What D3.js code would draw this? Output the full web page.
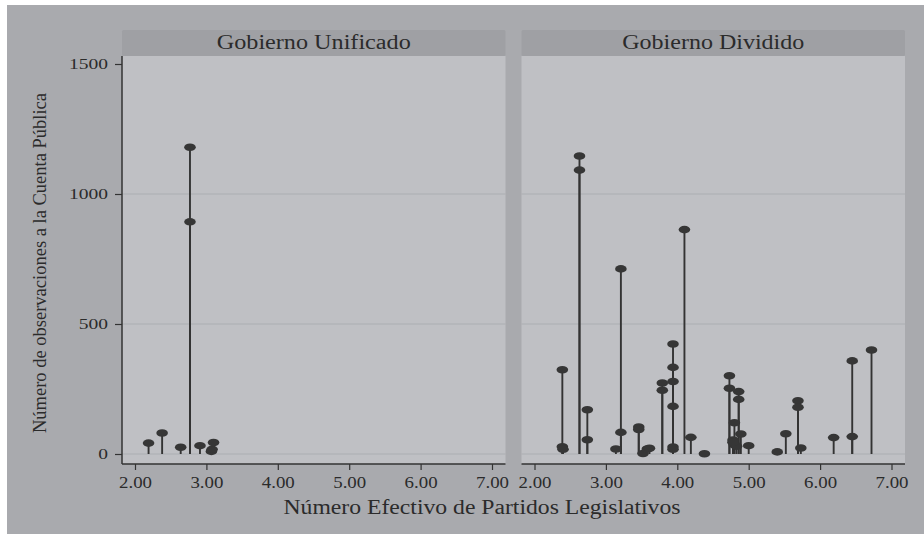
<!DOCTYPE html>
<html><head><meta charset="utf-8">
<script src="https://cdn.jsdelivr.net/npm/d3@7"></script>
<style>
html,body{margin:0;padding:0;background:#fff;}
svg{display:block;}
text{font-family:"Liberation Serif","Times New Roman",serif;fill:#2b2b2b;}
</style></head>
<body>
<svg id="chart" width="924" height="534"></svg>
<script>
// ---- data ----
const panels = ["Gobierno Unificado", "Gobierno Dividido"];
const unificadoX = [2.19, 2.38, 2.64, 2.77, 2.77, 2.91, 3.07, 3.08, 3.10];
const unificadoY = [42, 81, 26, 1180, 893, 32, 10, 18, 44];
const divididoX = [2.39, 2.39, 2.40, 2.63, 2.63, 2.74, 2.74, 3.14, 3.21, 3.21,
  3.46, 3.46, 3.52, 3.58, 3.61, 3.79, 3.79, 3.94, 3.94, 3.94, 3.94, 3.94, 3.94,
  4.10, 4.19, 4.38, 4.73, 4.73, 4.86, 4.86, 4.80, 4.89, 4.78, 4.80, 4.83, 4.78,
  5.00, 5.40, 5.52, 5.69, 5.69, 5.73, 6.19, 6.45, 6.45, 6.72];
const divididoY = [324, 28, 18, 1146, 1092, 170, 55, 19, 712, 83,
  104, 94, 2, 19, 22, 273, 245, 423, 333, 279, 183, 27, 18,
  863, 64, 1, 301, 253, 240, 210, 120, 77, 54, 35, 30, 45,
  32, 8, 78, 205, 180, 23, 63, 358, 67, 400];
const xTicks = [2, 3, 4, 5, 6, 7];
const yTicks = [0, 500, 1000, 1500];
const yGrid = [0, 500, 1000];
const xTitle = "Número Efectivo de Partidos Legislativos";
const yTitle = "Número de observaciones a la Cuenta Pública";

const seriesX = [unificadoX, divididoX];
const seriesY = [unificadoY, divididoY];

// ---- layout ----
const svg = d3.select("#chart");
const C = {outer:"#a9aaae", plot:"#bfc0c4", strip:"#9fa0a4", grid:"#acadb1", ink:"#333333"};
const panelLeft = [122, 521.5], panelW = 383.5;
const plotTop = 56, plotBottom = 464, stripTop = 30;
const x = d3.scaleLinear().domain([2, 7]).range([13, 370]);
const y = d3.scaleLinear().domain([0, 1500]).range([454, 64]);
const STRETCH = 1.2;

svg.append("rect").attr("x", 7).attr("y", 5).attr("width", 917).attr("height", 529).attr("fill", C.outer);

function fitWidth(sel, w) {
  sel.attr("textLength", w).attr("lengthAdjust", "spacingAndGlyphs");
}
function stretch(sel, k) {
  sel.each(function() {
    const n = this.getComputedTextLength();
    d3.select(this).attr("textLength", n * k).attr("lengthAdjust", "spacingAndGlyphs");
  });
}

const stripTextW = [194, 182];

panels.forEach((name, i) => {
  const g = svg.append("g").attr("transform", `translate(${panelLeft[i]},0)`);
  g.append("rect").attr("x", 0).attr("y", stripTop).attr("width", panelW).attr("height", plotTop - stripTop)
    .attr("fill", C.strip).attr("rx", 1.5);
  g.append("rect").attr("x", 0).attr("y", plotTop).attr("width", panelW).attr("height", plotBottom - plotTop)
    .attr("fill", C.plot);
  g.append("text").attr("x", panelW / 2).attr("y", 49).attr("text-anchor", "middle")
    .attr("font-size", 20).text(name).call(fitWidth, stripTextW[i]);

  g.selectAll(".grid").data(yGrid).join("line")
    .attr("x1", 0).attr("x2", panelW)
    .attr("y1", d => y(d)).attr("y2", d => y(d))
    .attr("stroke", C.grid).attr("stroke-width", 1.2);

  // x axis
  const xa = g.append("g").attr("transform", `translate(0,${plotBottom})`)
    .call(d3.axisBottom(x).tickValues(xTicks).tickFormat(d3.format(".2f")).tickSize(6).tickPadding(6));
  xa.select(".domain").attr("d", `M0,0H${panelW}`).attr("stroke", C.ink).attr("stroke-width", 1.5);
  xa.selectAll(".tick line").attr("stroke", C.ink).attr("stroke-width", 1.2);
  xa.selectAll(".tick text").attr("font-family", "Liberation Serif").attr("font-size", 16.5)
    .attr("fill", "#2b2b2b").call(fitWidth, 33);

  if (i === 0) {
    const ya = g.append("g")
      .call(d3.axisLeft(y).tickValues(yTicks).tickFormat(d3.format("d")).tickSize(7).tickPadding(7));
    ya.select(".domain").attr("d", `M0,${plotTop}V${plotBottom}`).attr("stroke", C.ink).attr("stroke-width", 1.5);
    ya.selectAll(".tick line").attr("stroke", C.ink).attr("stroke-width", 1.2);
    ya.selectAll(".tick text").attr("font-family", "Liberation Serif").attr("font-size", 15)
      .attr("fill", "#2b2b2b").call(stretch, 1.3);
  }

  const pts = seriesX[i].map((v, j) => ({x: v, y: seriesY[i][j]}));
  g.selectAll(".stem").data(pts).join("line")
    .attr("x1", d => x(d.x)).attr("x2", d => x(d.x))
    .attr("y1", y(0)).attr("y2", d => y(d.y))
    .attr("stroke", C.ink).attr("stroke-width", 1.9);
  g.selectAll(".dot").data(pts).join("ellipse")
    .attr("cx", d => x(d.x)).attr("cy", d => y(d.y))
    .attr("rx", 5.8).attr("ry", 3.8).attr("fill", "#363636");
});

svg.append("text").attr("x", 482).attr("y", 514).attr("text-anchor", "middle")
  .attr("font-size", 20).text(xTitle).call(fitWidth, 397);
svg.append("text").attr("transform", "translate(46,263) rotate(-90)").attr("text-anchor", "middle")
  .attr("font-size", 18).text(yTitle).call(fitWidth, 340);
</script>
</body></html>
